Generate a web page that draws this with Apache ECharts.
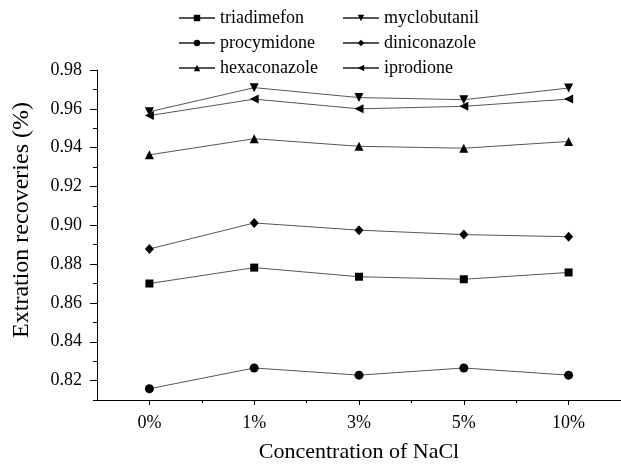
<!DOCTYPE html>
<html>
<head>
<meta charset="utf-8">
<script src="https://cdn.jsdelivr.net/npm/echarts@6/dist/echarts.min.js"></script>
<style>
  html, body { margin: 0; padding: 0; background: #fff; }
  #chart { width: 621px; height: 468px; }
</style>
</head>
<body>
<div id="chart"></div>
<script>
// NaCl concentration levels on the x axis
const categories = ['0%', '1%', '3%', '5%', '10%'];

// Extraction recoveries per pesticide
const triadimefon  = [0.8700, 0.8782, 0.8735, 0.8722, 0.8757];
const procymidone  = [0.8158, 0.8265, 0.8228, 0.8265, 0.8228];
const hexaconazole = [0.9363, 0.9446, 0.9407, 0.9397, 0.9432];
const myclobutanil = [0.9585, 0.9709, 0.9658, 0.9647, 0.9707];
const diniconazole = [0.8878, 0.9012, 0.8975, 0.8952, 0.8941];
const iprodione    = [0.9565, 0.9650, 0.9600, 0.9613, 0.9650];

// Tick positions
const yMajorTicks = [0.82, 0.84, 0.86, 0.88, 0.90, 0.92, 0.94, 0.96, 0.98];
const yMinorTicks = [0.81, 0.83, 0.85, 0.87, 0.89, 0.91, 0.93, 0.95, 0.97];
const xMajorTicks = [0, 1, 2, 3, 4];
const xMinorTicks = [0.5, 1.5, 2.5, 3.5];

const FONT = '"Liberation Serif", "Times New Roman", serif';
const LINE_COLOR = '#555';
const MARK_COLOR = '#000';

function toPoints(values) {
  return values.map((v, i) => [i, v]);
}

function makeSeries(name, values, symbol, size, rotate) {
  return {
    name: name,
    type: 'line',
    data: toPoints(values),
    symbol: symbol,
    symbolSize: size,
    symbolRotate: rotate || 0,
    showAllSymbol: true,
    lineStyle: { color: LINE_COLOR, width: 1 },
    itemStyle: { color: MARK_COLOR, borderWidth: 0 },
    emphasis: { disabled: true },
    animation: false
  };
}

const series = [
  makeSeries('triadimefon', triadimefon, 'rect', 8),
  makeSeries('procymidone', procymidone, 'circle', 9),
  makeSeries('hexaconazole', hexaconazole, 'triangle', 9),
  makeSeries('myclobutanil', myclobutanil, 'triangle', 9, 180),
  makeSeries('diniconazole', diniconazole, 'diamond', [9, 10]),
  makeSeries('iprodione', iprodione, 'triangle', 9, 90)
];

function legendAt(left, names) {
  return {
    orient: 'vertical',
    left: left,
    top: 4,
    itemWidth: 36,
    itemHeight: 8,
    itemGap: 7,
    selectedMode: false,
    textStyle: { fontFamily: FONT, fontSize: 18, color: '#000', height: 18 },
    data: names
  };
}

const chart = echarts.init(document.getElementById('chart'), null, { renderer: 'canvas' });

chart.setOption({
  backgroundColor: '#fff',
  animation: false,
  textStyle: { fontFamily: FONT },
  legend: [
    legendAt(173, ['triadimefon', 'procymidone', 'hexaconazole']),
    legendAt(337, ['myclobutanil', 'diniconazole', 'iprodione'])
  ],
  grid: { left: 97, top: 70, right: -1, bottom: 65.5, containLabel: false },
  xAxis: [
    {
      type: 'value',
      min: -0.5,
      max: 4.5,
      name: 'Concentration of NaCl',
      nameLocation: 'middle',
      nameGap: 41,
      nameTextStyle: { fontFamily: FONT, fontSize: 22, color: '#000' },
      axisLine: { show: true, onZero: false, lineStyle: { color: '#000', width: 1 } },
      axisTick: { show: true, inside: false, length: 5, customValues: xMajorTicks, lineStyle: { color: '#000' } },
      axisLabel: {
        show: true,
        customValues: xMajorTicks,
        margin: 14,
        fontFamily: FONT,
        fontSize: 18,
        color: '#000',
        formatter: v => categories[Math.round(v)]
      },
      splitLine: { show: false }
    },
    {
      type: 'value',
      min: -0.5,
      max: 4.5,
      position: 'bottom',
      axisLine: { show: false, onZero: false },
      axisTick: { show: true, inside: false, length: 3, customValues: xMinorTicks, lineStyle: { color: '#000' } },
      axisLabel: { show: false },
      splitLine: { show: false }
    }
  ],
  yAxis: [
    {
      type: 'value',
      min: 0.81,
      max: 0.98,
      name: 'Extration recoveries (%)',
      nameLocation: 'middle',
      nameGap: 63,
      nameTextStyle: { fontFamily: FONT, fontSize: 24, color: '#000', padding: [0, 0, 0, 30] },
      axisLine: { show: true, onZero: false, lineStyle: { color: '#000', width: 1 } },
      axisTick: { show: true, inside: false, length: 7, customValues: yMajorTicks, lineStyle: { color: '#000' } },
      axisLabel: {
        show: true,
        customValues: yMajorTicks,
        margin: 15,
        fontFamily: FONT,
        fontSize: 18,
        color: '#000',
        formatter: v => v.toFixed(2)
      },
      splitLine: { show: false }
    },
    {
      type: 'value',
      min: 0.81,
      max: 0.98,
      position: 'left',
      axisLine: { show: false, onZero: false },
      axisTick: { show: true, inside: false, length: 4, customValues: yMinorTicks, lineStyle: { color: '#000' } },
      axisLabel: { show: false },
      splitLine: { show: false }
    }
  ],
  series: series
});
</script>
</body>
</html>
